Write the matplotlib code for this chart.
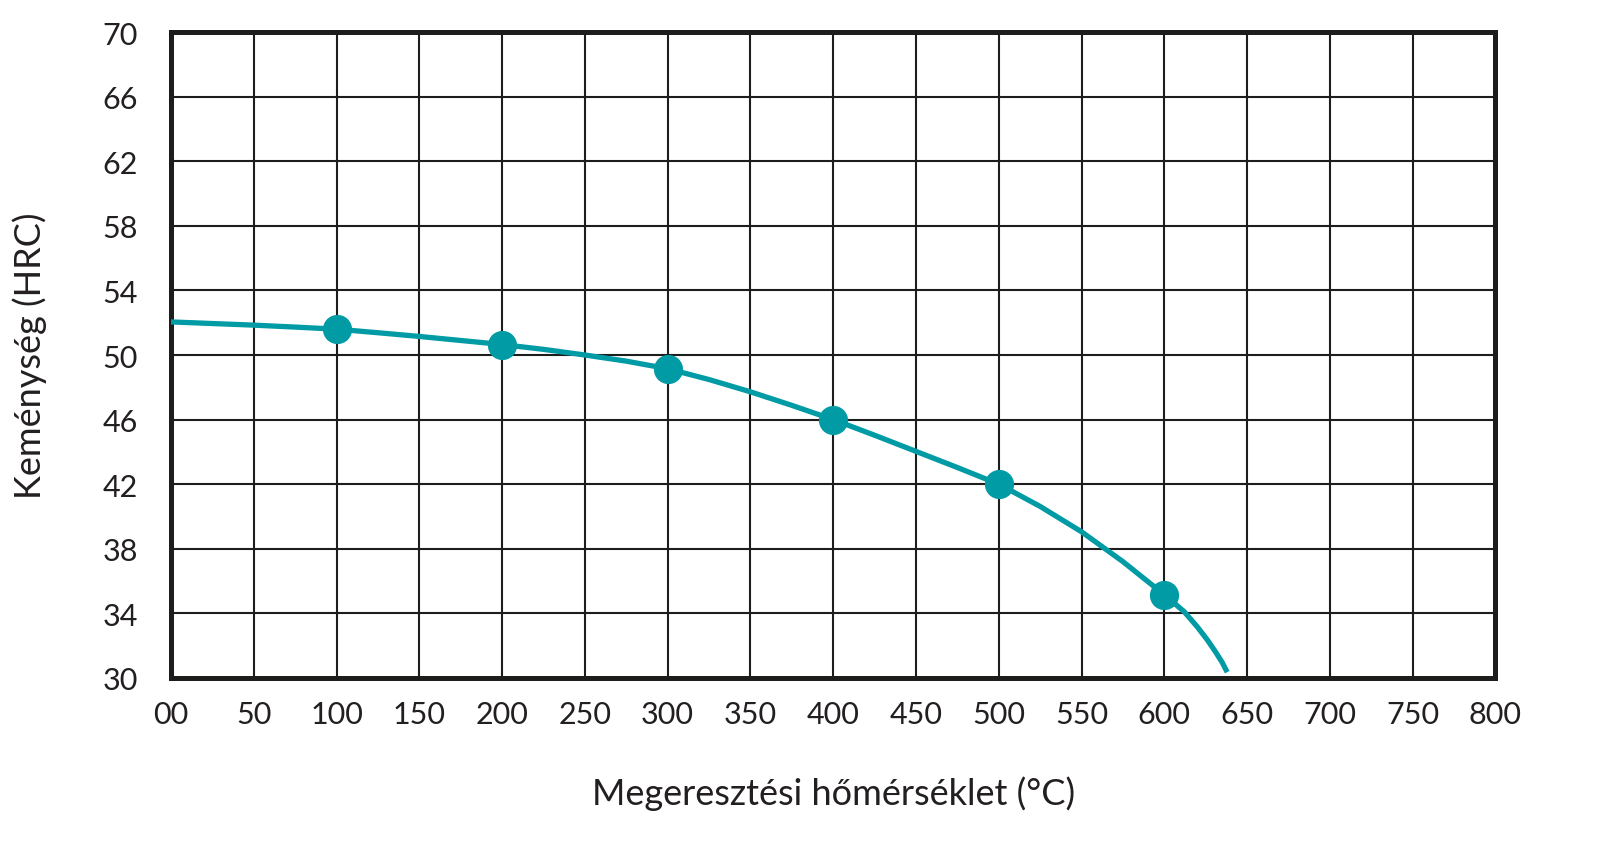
import numpy as np
import matplotlib
matplotlib.use("Agg")
import matplotlib.pyplot as plt

plt.rcParams['font.family'] = ['Lato', 'DejaVu Sans']

# measured points (markers)
temp_pts = [100, 200, 300, 400, 500, 600]
hrc_pts = [51.6, 50.65, 49.15, 46.0, 42.0, 35.15]

# curve
curve_t = [0, 25, 50, 75, 100, 125, 150, 175, 200, 225, 250, 275, 300, 325, 350,
           375, 400, 425, 450, 475, 500, 525, 550, 575, 600, 612, 620, 626, 631, 635, 638]
curve_h = [52.05, 51.95, 51.85, 51.73, 51.6, 51.38, 51.15, 50.9, 50.65, 50.35, 50.0,
           49.62, 49.15, 48.48, 47.72, 46.88, 46.0, 45.03, 44.03, 43.03, 42.0, 40.62,
           39.05, 37.2, 35.15, 34.1, 33.15, 32.35, 31.6, 30.95, 30.35]

x_ticks = list(range(0, 801, 50))
x_labels = ['00'] + [str(v) for v in x_ticks[1:]]
y_ticks = list(range(30, 71, 4))

teal = '#009BA4'
dark = '#1d1d1b'

fig = plt.figure(figsize=(16.21, 8.62), dpi=100)
ax = fig.add_axes([0.1055, 0.2125, 0.817, 0.749])

ax.plot(curve_t, curve_h, color=teal, lw=3.8, solid_capstyle='butt',
        solid_joinstyle='round', zorder=3)
ax.plot(temp_pts, hrc_pts, 'o', color=teal, ms=20, zorder=4)

ax.set_xlim(0, 800)
ax.set_ylim(30, 70)
ax.set_xticks(x_ticks)
ax.set_xticklabels(x_labels)
ax.set_yticks(y_ticks)
ax.grid(True, color=dark, lw=1.5)
ax.set_axisbelow(True)
ax.tick_params(length=0, labelsize=22, colors='#231f20')
ax.tick_params(axis='y', pad=24)
ax.tick_params(axis='x', pad=16)
for sp in ax.spines.values():
    sp.set_linewidth(3.6)
    sp.set_color(dark)

ax.set_xlabel('Megeresztési hőmérséklet (°C)', fontsize=26, color='#231f20', labelpad=34)
ax.set_ylabel('Keménység (HRC)', fontsize=26, color='#231f20', labelpad=40)

fig.savefig('out.png', dpi=100)
